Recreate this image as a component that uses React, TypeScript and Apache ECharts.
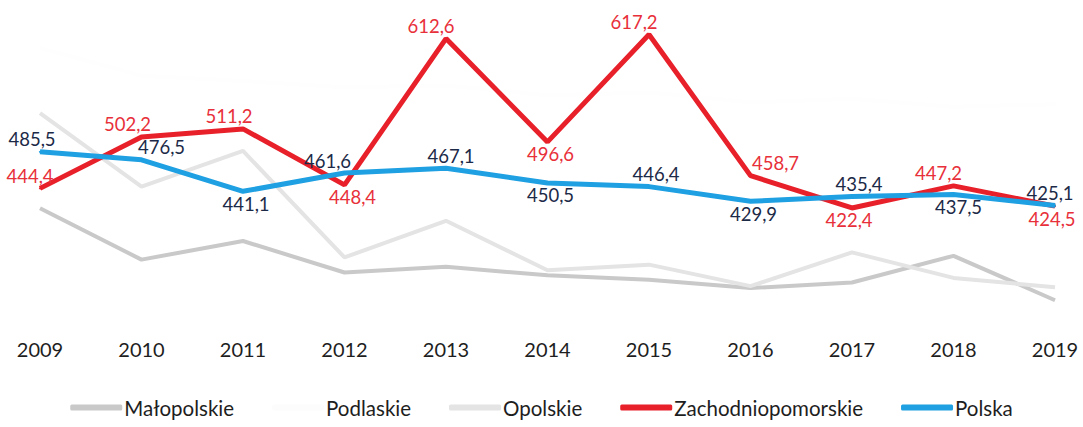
import React, { useEffect, useRef } from "react";
import * as echarts from "echarts";

const years = ["2009", "2010", "2011", "2012", "2013", "2014", "2015", "2016", "2017", "2018", "2019"];
const malopolskie = [422.2, 364.4, 385.3, 350.0, 356.3, 346.9, 341.9, 332.5, 338.8, 368.7, 318.8];
const podlaskie = [602, 571, 565, 558, 560, 549, 552, 541, 545, 536, 539];
const opolskie = [528.9, 446.4, 486.4, 366.9, 408.0, 352.5, 358.8, 334.7, 372.5, 343.9, 333.4];
const zachodniopomorskie = [444.4, 502.2, 511.2, 448.4, 612.6, 496.6, 617.2, 458.7, 422.4, 447.2, 424.5];
const polska = [485.5, 476.5, 441.1, 461.6, 467.1, 450.5, 446.4, 429.9, 435.4, 437.5, 425.1];
const redLabelPos = ["top", "top", "top", "bottom", "top", "bottom", "top", "top", "bottom", "top", "bottom"];
const blueLabelPos = ["top", "top", "bottom", "top", "top", "bottom", "top", "bottom", "top", "bottom", "top"];
const redLabelShift = [-10, -14, -14, 8, -15, 3, -15, 25, -3, -15, -3];
const blueLabelShift = [-8, 20, 3, -17, 5, 3, 7, 3, 7, 5, -5];

const FONT = "Lato";
const fmt = (p: any) => Number(p.value).toFixed(1).replace(".", ",");

export default function App() {
  const ref = useRef<HTMLDivElement>(null);
  useEffect(() => {
    document.body.style.margin = "0";
    const chart = echarts.init(ref.current!, null, { renderer: "svg" });
    const labelled = (vals: number[], pos: string[], color: string) =>
      vals.map((v, i) => ({
        value: v,
        label: {
          show: true,
          position: pos[i],
          distance: 2,
          color,
          fontSize: 18.5,
          fontFamily: FONT,
          formatter: fmt,
        },
      }));
    chart.setOption({
      animation: false,
      backgroundColor: "#ffffff",
      textStyle: { fontFamily: FONT },
      grid: { left: 40, right: 28, top: 32, bottom: 110 },
      xAxis: {
        type: "category",
        data: years,
        boundaryGap: false,
        axisLine: { show: false },
        axisTick: { show: false },
        axisLabel: { color: "#1e1e1e", fontSize: 20, fontFamily: FONT, margin: 22 },
        splitLine: { show: false },
      },
      yAxis: {
        type: "value",
        min: 300,
        max: 620,
        show: false,
        splitLine: { show: false },
      },
      legend: {
        bottom: 4,
        left: "center",
        itemWidth: 52,
        itemHeight: 6,
        itemGap: 38,
        icon: "roundRect",
        textStyle: { color: "#1e1e1e", fontSize: 20.5, fontFamily: FONT, padding: [0, 0, 0, -3] },
        data: ["Małopolskie", "Podlaskie", "Opolskie", "Zachodniopomorskie", "Polska"],
      },
      series: [
        {
          name: "Małopolskie",
          type: "line",
          data: malopolskie,
          symbol: "none",
          color: "#c9c9c9",
          lineStyle: { width: 4, color: "#c9c9c9" },
          z: 1,
        },
        {
          name: "Podlaskie",
          type: "line",
          data: podlaskie,
          symbol: "none",
          color: "#fcfcfc",
          lineStyle: { width: 4, color: "#fefefe" },
          z: 1,
        },
        {
          name: "Opolskie",
          type: "line",
          data: opolskie,
          symbol: "none",
          color: "#e4e4e4",
          lineStyle: { width: 4, color: "#e4e4e4" },
          z: 1,
        },
        {
          name: "Zachodniopomorskie",
          type: "line",
          data: labelled(zachodniopomorskie, redLabelPos, "#e8303a"),
          symbol: "circle",
          symbolSize: 2,
          showSymbol: true,
          color: "#e8202a",
          itemStyle: { color: "#e8202a" },
          lineStyle: { width: 5, color: "#e8202a" },
          labelLayout: (p: any) => ({ dx: redLabelShift[p.dataIndex] ?? 0, hideOverlap: false }),
          z: 3,
        },
        {
          name: "Polska",
          type: "line",
          data: labelled(polska, blueLabelPos, "#1c2a48"),
          symbol: "circle",
          symbolSize: 2,
          showSymbol: true,
          color: "#1ea0e2",
          itemStyle: { color: "#1ea0e2" },
          lineStyle: { width: 5, color: "#1ea0e2" },
          labelLayout: (p: any) => ({ dx: blueLabelShift[p.dataIndex] ?? 0, hideOverlap: false }),
          z: 4,
        },
      ],
    });
    return () => chart.dispose();
  }, []);
  return <div ref={ref} style={{ width: 1083, height: 427 }} />;
}
